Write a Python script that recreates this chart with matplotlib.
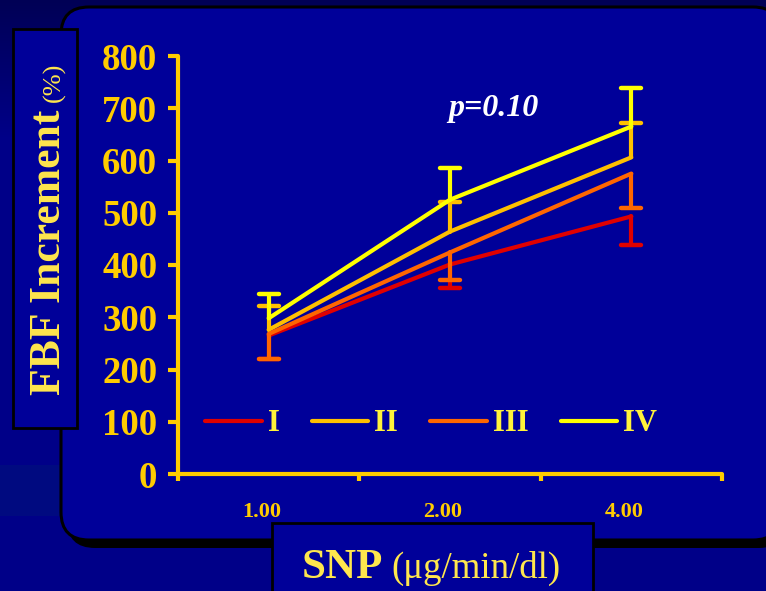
import numpy as np
import matplotlib
matplotlib.use("Agg")
import matplotlib.pyplot as plt
import matplotlib.transforms as mtransforms
from matplotlib.patches import FancyBboxPatch, Rectangle

# SNP doses (categorical x axis) and FBF increment per group
doses = ["1.00", "2.00", "4.00"]
groups = ["I", "II", "III", "IV"]
fbf_I = [265, 401, 493]
fbf_II = [276, 464, 606]
fbf_III = [268, 424, 575]
fbf_IV = [298, 525, 665]
# one-sided error bars: I and III drawn downward, II and IV upward
err_I = [45, 45, 55]
err_II = [45, 56, 66]
err_III = [48, 53, 65]
err_IV = [47, 61, 73]
p_label = "p=0.10"

colors = {"I": "#E00000", "II": "#FFC000", "III": "#FF6600", "IV": "#FFFF00"}
gold = "#FFCC00"
label_yellow = "#FFE64D"
panel_blue = "#000099"

plt.rcParams["font.family"] = ["Liberation Serif", "DejaVu Serif"]

W, H = 766, 591
fig = plt.figure(figsize=(W / 100, H / 100), dpi=100)

# slide background, drawn in pixel coordinates
bg = fig.add_axes([0, 0, 1, 1])
bg.set_xlim(0, W)
bg.set_ylim(H, 0)
bg.axis("off")
rows = np.linspace(0, 1, H)
shade = np.clip(85 + 220 * rows, 85, 136)
img = np.zeros((H, W, 3))
img[:, :, 2] = shade[:, None] / 255
band = (np.arange(H) > 464) & (np.arange(H) < 516)
img[band, :60, 1] = 10 / 255
img[band, :60, 2] = 128 / 255
bg.imshow(img, extent=(0, W, H, 0), aspect="auto", zorder=0)

# rounded panel with drop shadow
shadow = FancyBboxPatch((67, 13), 720, 535, boxstyle="round,pad=0,rounding_size=28",
                        facecolor="black", edgecolor="none", zorder=1)
panel = FancyBboxPatch((61, 7), 720, 533, boxstyle="round,pad=0,rounding_size=28",
                       facecolor=panel_blue, edgecolor="black", linewidth=2.2, zorder=2)
bg.add_patch(shadow)
bg.add_patch(panel)

# axis title boxes
bg.add_patch(Rectangle((13, 29), 64, 399, facecolor=panel_blue, edgecolor="black",
                       linewidth=2, zorder=3))
bg.add_patch(Rectangle((272, 523), 321, 80, facecolor=panel_blue, edgecolor="black",
                       linewidth=2, zorder=3))

bg.text(60, 395, "FBF Increment", rotation=90, rotation_mode="anchor",
        ha="left", va="baseline", fontsize=31.5, fontweight="bold",
        color=label_yellow, zorder=4)
bg.text(60, 102, "(%)", rotation=90, rotation_mode="anchor",
        ha="left", va="baseline", fontsize=19, color=label_yellow, zorder=4)
bg.text(383, 578, "SNP", ha="right", va="baseline", fontsize=31,
        fontweight="bold", color=label_yellow, zorder=4)
bg.text(391, 578, "(μg/min/dl)", ha="left", va="baseline", fontsize=26.5,
        color=label_yellow, zorder=4)

# chart area
ax = fig.add_axes([178 / W, 1 - 474 / H, (722 - 178) / W, (474 - 56) / H])
ax.patch.set_alpha(0)
x = np.arange(len(doses))

series = [
    ("I", fbf_I, err_I, -1),
    ("II", fbf_II, err_II, 1),
    ("III", fbf_III, err_III, -1),
    ("IV", fbf_IV, err_IV, 1),
]
handles = []
for name, vals, errs, sign in series:
    vals = np.array(vals)
    ends = vals + sign * np.array(errs)
    c = colors[name]
    ax.vlines(x, vals, ends, colors=c, linewidth=3, capstyle="round", zorder=3)
    ax.hlines(ends, x - 0.055, x + 0.055, colors=c, linewidth=3.2,
              capstyle="round", zorder=3)
    ln, = ax.plot(x, vals, color=c, linewidth=3, solid_joinstyle="round",
                  solid_capstyle="round", zorder=3, label=name)
    handles.append(ln)

ax.text(1.24, 685, p_label, ha="center", va="baseline", fontsize=23,
        fontweight="bold", fontstyle="italic", color="white")

ax.set_xlim(-0.5, 2.5)
ax.set_ylim(0, 800)
ax.set_yticks(np.arange(0, 801, 100))
ax.set_xticks(x)
ax.set_xticklabels(doses)
ax.set_xticks([-0.5, 0.5, 1.5, 2.5], minor=True)

for side in ("top", "right"):
    ax.spines[side].set_visible(False)
for side in ("left", "bottom"):
    ax.spines[side].set_color(gold)
    ax.spines[side].set_linewidth(3)
    ax.spines[side].set_capstyle("round")

ax.tick_params(axis="y", colors=gold, length=7, width=3, pad=8,
               labelsize=26.5)
ax.tick_params(axis="x", which="major", length=0, pad=20, labelsize=16,
               labelcolor=gold)
ax.tick_params(axis="x", which="minor", length=5, width=3, color=gold)
shift = mtransforms.ScaledTranslation(-0.07, 0, fig.dpi_scale_trans)
for lab in ax.get_xticklabels():
    lab.set_fontweight("bold")
    lab.set_transform(lab.get_transform() + shift)
for lab in ax.get_yticklabels():
    lab.set_fontweight("bold")

leg = ax.legend(handles=handles, labels=groups, ncol=4, frameon=False,
                loc="center left", bbox_to_anchor=(0.05, 0.12),
                handlelength=1.85, handletextpad=0.2, columnspacing=1.05,
                borderpad=0, borderaxespad=0,
                prop={"size": 22, "weight": "bold"})
for t in leg.get_texts():
    t.set_color("#FFF23A")

fig.savefig("out.png", dpi=100)
